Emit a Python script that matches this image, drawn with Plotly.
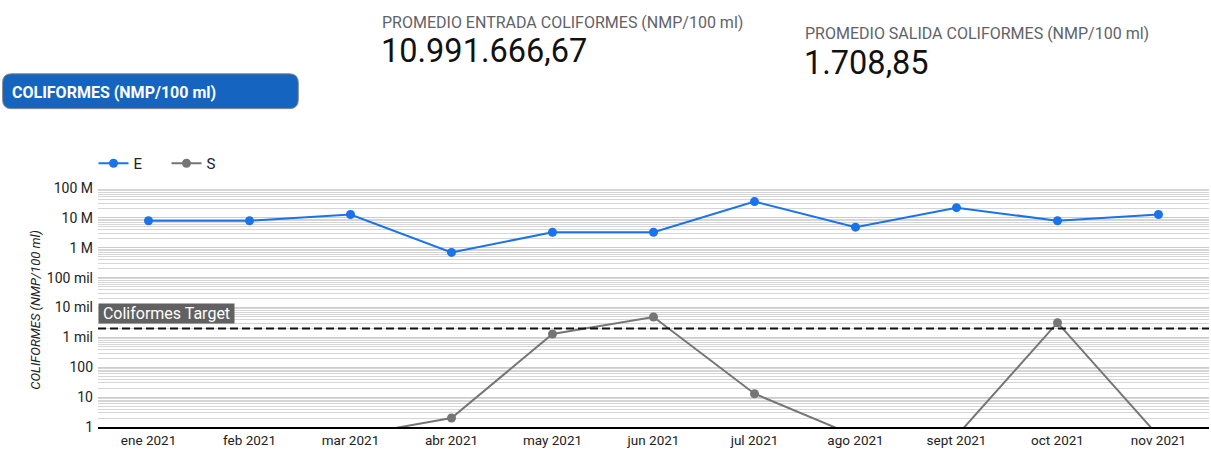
import plotly.graph_objects as go

# ---------------- data ----------------
months = ["ene 2021", "feb 2021", "mar 2021", "abr 2021", "may 2021", "jun 2021",
          "jul 2021", "ago 2021", "sept 2021", "oct 2021", "nov 2021"]
entrada = [8.0e6, 8.0e6, 13e6, 0.7e6, 3.3e6, 3.3e6, 35e6, 4.9e6, 22e6, 8.0e6, 13e6]
salida = [0, 0, 0, 2, 1300, 4800, 13, 0, 0, 3100, 0]
target_value = 2000
target_label = "Coliformes Target"
ytick_vals = [1, 10, 100, 1e3, 1e4, 1e5, 1e6, 1e7, 1e8]
ytick_text = ["1", "10", "100", "1 mil", "10 mil", "100 mil", "1 M", "10 M", "100 M"]
kpi1_label = "PROMEDIO ENTRADA COLIFORMES (NMP/100 ml)"
kpi1_value = "10.991.666,67"
kpi2_label = "PROMEDIO SALIDA COLIFORMES (NMP/100 ml)"
kpi2_value = "1.708,85"
section_title = "COLIFORMES (NMP/100 ml)"
y_title = "COLIFORMES (NMP/100 ml)"

# zero cannot be shown on a log axis: draw it just below the axis floor
ZERO_FLOOR = 0.5
salida_plot = [v if v > 0 else ZERO_FLOOR for v in salida]

# ---------------- layout geometry ----------------
W, H = 1211, 450
L, R, T, B = 97.5, 1.5, 187.5, 23
PW, PH = W - L - R, H - T - B


def px(x):
    return (x - L) / PW


def py(y):
    return (H - B - y) / PH


FONT = "Roboto"
BLUE = "#1a73e8"
GRAY = "#757575"

fig = go.Figure()
fig.add_trace(go.Scatter(x=months, y=entrada, name="E", mode="lines+markers",
                         line=dict(color=BLUE, width=2), marker=dict(size=9, color=BLUE),
                         cliponaxis=True))
fig.add_trace(go.Scatter(x=months, y=salida_plot, name="S", mode="lines+markers",
                         line=dict(color=GRAY, width=2), marker=dict(size=9, color=GRAY),
                         cliponaxis=True))

fig.add_shape(type="line", xref="paper", x0=0, x1=1, yref="y", y0=target_value, y1=target_value,
              line=dict(color="#111111", width=2, dash="8px,4px"), layer="above")

annotations = [
    dict(text=target_label, xref="paper", yref="paper", x=px(98), y=py(323.5),
         xanchor="left", yanchor="bottom", showarrow=False, bgcolor="#616161",
         width=135, height=19, borderpad=0, align="center",
         font=dict(family=FONT, size=16, color="white")),
    dict(text=y_title, xref="paper", yref="paper", x=px(35), y=py(310), textangle=-90,
         xanchor="center", yanchor="middle", showarrow=False,
         font=dict(family=FONT, size=13, color="#222222", style="italic")),
    dict(text=kpi1_label, xref="paper", yref="paper", x=px(380), y=py(22),
         xanchor="left", yanchor="middle", showarrow=False,
         font=dict(family=FONT, size=16, color="#5f6368")),
    dict(text=kpi1_value, xref="paper", yref="paper", x=px(379), y=py(50),
         xanchor="left", yanchor="middle", showarrow=False,
         font=dict(family=FONT, size=32.5, color="#111111")),
    dict(text=kpi2_label, xref="paper", yref="paper", x=px(803), y=py(33),
         xanchor="left", yanchor="middle", showarrow=False,
         font=dict(family=FONT, size=16, color="#5f6368")),
    dict(text=kpi2_value, xref="paper", yref="paper", x=px(802), y=py(62),
         xanchor="left", yanchor="middle", showarrow=False,
         font=dict(family=FONT, size=32.5, color="#111111")),
    dict(text="<b>" + section_title + "</b>", xref="paper", yref="paper", x=px(9), y=py(92),
         xanchor="left", yanchor="middle", showarrow=False,
         font=dict(family=FONT, size=16, color="white")),
]

# rounded title box
x0, x1, y0, y1, r = 2, 298, 73, 108, 9
path = (f"M {px(x0 + r)},{py(y0)} L {px(x1 - r)},{py(y0)} Q {px(x1)},{py(y0)} {px(x1)},{py(y0 + r)} "
        f"L {px(x1)},{py(y1 - r)} Q {px(x1)},{py(y1)} {px(x1 - r)},{py(y1)} "
        f"L {px(x0 + r)},{py(y1)} Q {px(x0)},{py(y1)} {px(x0)},{py(y1 - r)} "
        f"L {px(x0)},{py(y0 + r)} Q {px(x0)},{py(y0)} {px(x0 + r)},{py(y0)} Z")
fig.add_shape(type="path", xref="paper", yref="paper", path=path,
              fillcolor="#1565c0", line=dict(color="#8a8a8a", width=1), layer="below")

fig.update_layout(
    width=W, height=H,
    margin=dict(l=L, r=R, t=T, b=B, pad=0, autoexpand=False),
    paper_bgcolor="white", plot_bgcolor="white",
    font=dict(family=FONT, size=14, color="#222222"),
    showlegend=True,
    legend=dict(orientation="h", x=px(93), y=py(163), xanchor="left", yanchor="middle",
                font=dict(family=FONT, size=15, color="#222222"), bgcolor="rgba(0,0,0,0)",
                traceorder="normal", entrywidth=28),
    annotations=annotations,
    xaxis=dict(type="category", range=[-0.5, len(months) - 0.5], showgrid=False,
               showline=True, linecolor="#000000", linewidth=2, ticks="", zeroline=False,
               tickfont=dict(family=FONT, size=13.5, color="#222222"), ticklabelstandoff=0,
               automargin=False, fixedrange=True),
    yaxis=dict(type="log", range=[0, 8], tickvals=ytick_vals, ticktext=ytick_text,
               showgrid=True, gridcolor="#cccccc", gridwidth=1, ticks="", zeroline=False,
               showline=False, tickfont=dict(family=FONT, size=14, color="#222222"),
               ticklabelstandoff=4, automargin=False,
               minor=dict(dtick="D1", showgrid=True, gridcolor="#d6d6d6", gridwidth=1),
               fixedrange=True),
)

fig.write_html("out.html", post_script="document.body.style.margin='0';",
               config={"displayModeBar": False})
